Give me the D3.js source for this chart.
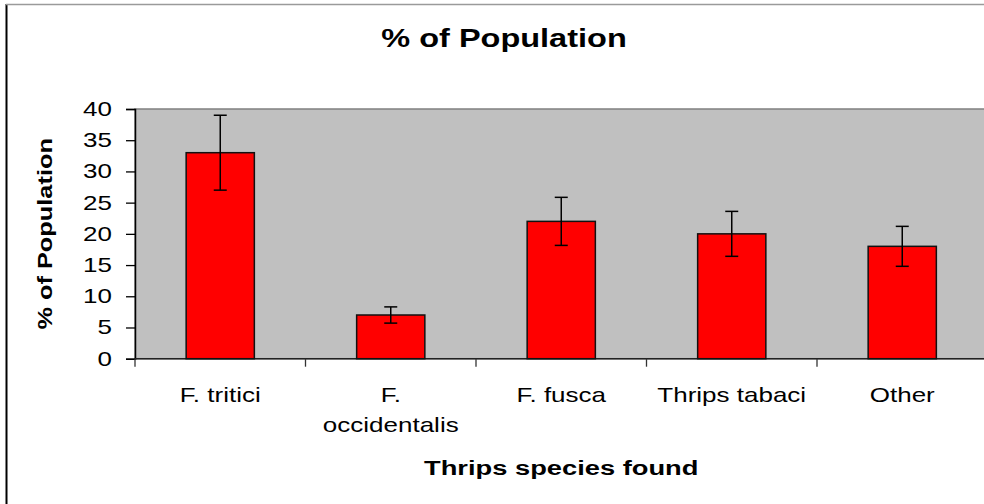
<!DOCTYPE html>
<html lang="en">
  <head>
    <meta charset="utf-8">
    <title>% of Population</title>
    <script src="https://d3js.org/d3.v7.min.js"></script>
    <style>
      body { margin: 0; background: #fff; }
      text { font-family: "Liberation Sans", Arial, sans-serif; fill: #000; }
    </style>
  </head>
  <body>
    <script>
      // data
      var categories = ["F. tritici", "F. occidentalis", "F. fusca", "Thrips tabaci", "Other"]
      var values = [33, 7, 22, 20, 18]
      var errors = [6, 1.3, 3.85, 3.6, 3.2]
      var yTicks = [0, 5, 10, 15, 20, 25, 30, 35, 40]

      var width = 984
      height = 504
      stretch = 1.3   // the original text is drawn wide

      var svg = d3.select("body")
        .append("svg")
          .attr("width", width)
          .attr("height", height)

      // chart frame, runs off the right and bottom of the picture
      svg.append("line")
        .attr("x1", 6.5).attr("y1", 4).attr("x2", 6.5).attr("y2", height)
        .attr("stroke", "#000").attr("stroke-width", 2)
      svg.append("line")
        .attr("x1", 6).attr("y1", 4.5).attr("x2", width).attr("y2", 4.5)
        .attr("stroke", "#9a9a9a").attr("stroke-width", 1.5)

      var plot = {left: 135, top: 109, bottom: 358.7, step: 170.5}

      var x = d3.scaleBand()
        .domain(categories)
        .range([plot.left, plot.left + plot.step * categories.length])

      var y = d3.scaleLinear()
        .domain([0, 40])
        .range([plot.bottom, plot.top])

      // grey plot area
      svg.append("rect")
        .attr("x", x.range()[0])
        .attr("y", y(40))
        .attr("width", x.range()[1] - x.range()[0])
        .attr("height", y(0) - y(40))
        .attr("fill", "#c0c0c0")
        .attr("stroke", "#808080")
        .attr("stroke-width", 1.5)

      // y axis
      var yAxis = svg.append("g")
        .attr("transform", "translate(" + plot.left + ",0)")
        .call(d3.axisLeft(y).tickValues(yTicks).tickSize(9).tickPadding(0))
      yAxis.select(".domain").attr("stroke", "#000").attr("stroke-width", 1.5)
      yAxis.selectAll(".tick line").attr("stroke", "#000").attr("stroke-width", 1.3)
      yAxis.selectAll(".tick text")
        .attr("x", -23 / stretch)
        .attr("transform", "scale(" + stretch + ",1)")
        .style("font-size", "20px")
        .style("font-family", '"Liberation Sans", Arial, sans-serif')

      // x axis: ticks sit between the categories
      var bounds = categories.map(function(c) { return x(c) })
      svg.append("line")
        .attr("x1", x.range()[0]).attr("x2", x.range()[1])
        .attr("y1", y(0)).attr("y2", y(0))
        .attr("stroke", "#222").attr("stroke-width", 1.5)
      svg.selectAll(".xtick")
        .data(bounds)
        .enter()
        .append("line")
          .attr("x1", function(d) { return d }).attr("x2", function(d) { return d })
          .attr("y1", y(0)).attr("y2", y(0) + 8)
          .attr("stroke", "#333").attr("stroke-width", 1.3)

      // bars
      var barW = x.bandwidth() * 0.4
      svg.selectAll(".bar")
        .data(categories)
        .enter()
        .append("rect")
          .attr("x", function(d) { return x(d) + (x.bandwidth() - barW) / 2 })
          .attr("y", function(d, i) { return y(values[i]) })
          .attr("width", barW)
          .attr("height", function(d, i) { return y(0) - y(values[i]) })
          .attr("fill", "#ff0000")
          .attr("stroke", "#111")
          .attr("stroke-width", 1.5)

      // error bars
      var cap = 6.5
      var eb = svg.selectAll(".err")
        .data(categories)
        .enter()
        .append("g")
          .attr("transform", function(d) { return "translate(" + (x(d) + x.bandwidth() / 2) + ",0)" })
      eb.append("line")
        .attr("y1", function(d, i) { return y(values[i] + errors[i]) })
        .attr("y2", function(d, i) { return y(values[i] - errors[i]) })
        .attr("stroke", "#000").attr("stroke-width", 1.5)
      eb.append("line")
        .attr("x1", -cap).attr("x2", cap)
        .attr("y1", function(d, i) { return y(values[i] + errors[i]) })
        .attr("y2", function(d, i) { return y(values[i] + errors[i]) })
        .attr("stroke", "#000").attr("stroke-width", 1.5)
      eb.append("line")
        .attr("x1", -cap).attr("x2", cap)
        .attr("y1", function(d, i) { return y(values[i] - errors[i]) })
        .attr("y2", function(d, i) { return y(values[i] - errors[i]) })
        .attr("stroke", "#000").attr("stroke-width", 1.5)

      // category labels, wrapped when too wide
      var labels = svg.selectAll(".xlab")
        .data(categories)
        .enter()
        .append("text")
          .attr("transform", function(d) { return "translate(" + (x(d) + x.bandwidth() / 2) + ",402) scale(" + stretch + ",1)" })
          .style("text-anchor", "middle")
          .style("font-size", "20px")
          .text(function(d) { return d })
      labels.each(function(d) {
        var t = d3.select(this)
        if (this.getComputedTextLength() > 120) {
          var words = d.split(" ")
          t.text(null)
          words.forEach(function(w, i) {
            t.append("tspan").attr("x", 0).attr("dy", i ? 30 : 0).text(w)
          })
        }
      })

      // titles
      svg.append("text")
        .attr("transform", "translate(504,47) scale(" + stretch + ",1)")
        .style("text-anchor", "middle")
        .style("font-size", "25px")
        .style("font-weight", "bold")
        .text("% of Population")

      svg.append("text")
        .attr("transform", "translate(" + ((x.range()[0] + x.range()[1]) / 2) + ",475) scale(" + stretch + ",1)")
        .style("text-anchor", "middle")
        .style("font-size", "21px")
        .style("font-weight", "bold")
        .text("Thrips species found")

      svg.append("text")
        .attr("transform", "translate(52," + ((y(0) + y(40)) / 2) + ") rotate(-90) scale(" + stretch + ",1)")
        .style("text-anchor", "middle")
        .style("font-size", "19.5px")
        .style("font-weight", "bold")
        .text("% of Population")
    </script>
  </body>
</html>
